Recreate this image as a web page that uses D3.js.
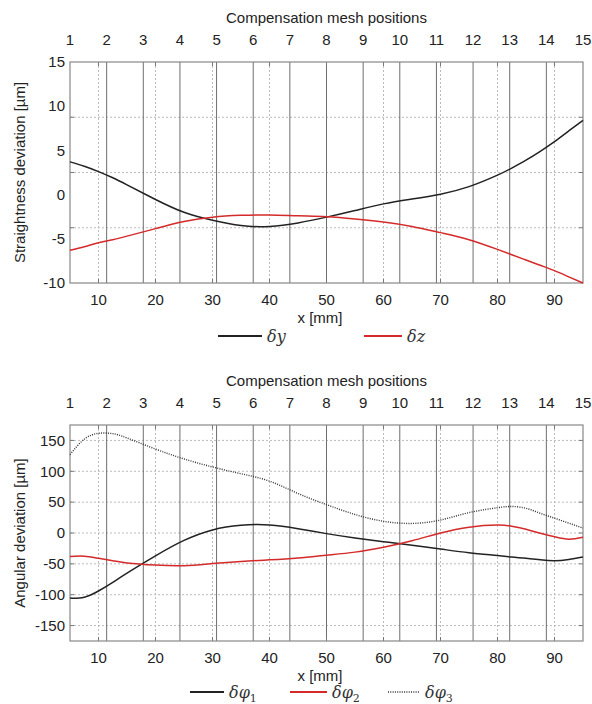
<!DOCTYPE html>
<html lang="en">
<head>
<meta charset="UTF-8"/>
<title>Straightness and angular deviation</title>
<script src="https://d3js.org/d3.v7.min.js"></script>
<style>
	body { margin: 0; background: #fff; }
	svg text { font-family: "Liberation Sans", Arial, sans-serif; fill: #222; }
	svg text.leg { font-family: "DejaVu Serif", "Liberation Serif", serif; font-style: italic; fill: #333; }
</style>
</head>
<body>
<script>
	// sample positions along x [mm]
	var xs = [5, 7.5, 10, 12.5, 15, 20, 25, 30, 35, 40, 45, 50, 55, 60, 65, 70, 75, 80, 82.5, 85, 87.5, 90, 92.5, 95];

	// straightness deviation [um]
	var dy = [3.7, 3.2, 2.6, 1.9, 1.1, -0.55, -2.0, -2.9, -3.5, -3.6, -3.2, -2.55, -1.8, -1.05, -0.5, 0.05, 0.9, 2.2, 3.0, 3.9, 4.9, 6.0, 7.2, 8.4];
	var dz = [-6.3, -5.9, -5.45, -5.1, -4.7, -3.85, -3.05, -2.55, -2.35, -2.3, -2.4, -2.5, -2.75, -3.1, -3.6, -4.3, -5.1, -6.2, -6.8, -7.4, -8.0, -8.6, -9.3, -10];

	// angular deviation [um]
	var dphi1 = [-105.5, -104, -94, -80, -65, -37, -12, 5, 12.5, 13, 7, -1, -8, -14, -20, -26, -32, -36.5, -39, -41, -43.5, -45, -43, -39];
	var dphi2 = [-38, -37.5, -41, -45, -48.5, -52, -53, -49.5, -46, -43.5, -40.5, -36, -31, -23, -12.5, 0, 9.5, 13, 11, 6, -0.5, -6, -10, -7];
	var dphi3 = [127, 152, 161.5, 161, 154, 136, 120, 107, 96, 84, 64, 46, 30, 19, 15.5, 21, 33, 41, 43, 40, 32, 24, 16, 8];

	var meshPositions = [1, 2, 3, 4, 5, 6, 7, 8, 9, 10, 11, 12, 13, 14, 15];
	var xTicks = [10, 20, 30, 40, 50, 60, 70, 80, 90];
	var topYTicks = [-10, -5, 0, 5, 10, 15];
	var topYGrid = [-3.75, 2.5, 8.75];
	var botYTicks = [-150, -100, -50, 0, 50, 100, 150];

	var w = 592;
	var h = 704;
	var left = 70, right = 583;

	var svg = d3.select("body").append("svg").attr("width", w).attr("height", h);

	var xScale = d3.scaleLinear().domain([5, 95]).range([left, right]);
	var meshScale = d3.scaleLinear().domain([1, 15]).range([left, right]);

	function panel(cfg) {
		var yScale = d3.scaleLinear().domain(cfg.domain).range([cfg.bottom, cfg.top]);
		var g = svg.append("g");

		// dotted grid
		g.selectAll(".vg").data(xTicks).enter().append("line")
			.attr("x1", function(d){ return xScale(d); })
			.attr("x2", function(d){ return xScale(d); })
			.attr("y1", cfg.top).attr("y2", cfg.bottom)
			.attr("stroke", "#bbb").attr("stroke-width", 1).attr("stroke-dasharray", "2,2");
		g.selectAll(".hg").data(cfg.grid).enter().append("line")
			.attr("x1", left).attr("x2", right)
			.attr("y1", function(d){ return yScale(d); })
			.attr("y2", function(d){ return yScale(d); })
			.attr("stroke", "#bbb").attr("stroke-width", 1).attr("stroke-dasharray", "2,2");

		// mesh lines
		g.selectAll(".ml").data(meshPositions.slice(1, -1)).enter().append("line")
			.attr("x1", function(d){ return meshScale(d); })
			.attr("x2", function(d){ return meshScale(d); })
			.attr("y1", cfg.top).attr("y2", cfg.bottom)
			.attr("stroke", "#6e6e6e").attr("stroke-width", 1);

		// inward ticks
		g.selectAll(".tb").data(xTicks).enter().append("line")
			.attr("x1", function(d){ return xScale(d); })
			.attr("x2", function(d){ return xScale(d); })
			.attr("y1", cfg.bottom).attr("y2", cfg.bottom - 4)
			.attr("stroke", "#777");
		g.selectAll(".tt").data(xTicks).enter().append("line")
			.attr("x1", function(d){ return xScale(d); })
			.attr("x2", function(d){ return xScale(d); })
			.attr("y1", cfg.top).attr("y2", cfg.top + 4)
			.attr("stroke", "#777");
		g.selectAll(".tl").data(cfg.grid).enter().append("line")
			.attr("x1", left).attr("x2", left + 4)
			.attr("y1", function(d){ return yScale(d); })
			.attr("y2", function(d){ return yScale(d); })
			.attr("stroke", "#777");
		g.selectAll(".tr").data(cfg.grid).enter().append("line")
			.attr("x1", right).attr("x2", right - 4)
			.attr("y1", function(d){ return yScale(d); })
			.attr("y2", function(d){ return yScale(d); })
			.attr("stroke", "#777");

		// frame
		g.append("rect")
			.attr("x", left).attr("y", cfg.top)
			.attr("width", right - left).attr("height", cfg.bottom - cfg.top)
			.attr("fill", "none").attr("stroke", "#888").attr("stroke-width", 1.2);

		// curves
		cfg.series.forEach(function(s){
			var line = d3.line()
				.x(function(d, i){ return xScale(xs[i]); })
				.y(function(d){ return yScale(d); })
				.curve(d3.curveNatural);
			g.append("path")
				.attr("d", line(s.values))
				.attr("fill", "none")
				.attr("stroke", s.color)
				.attr("stroke-width", s.dash ? 1.4 : 1.5)
				.attr("stroke-dasharray", s.dash || null);
		});

		// labels
		g.append("text")
			.attr("x", (left + right) / 2).attr("y", cfg.top - 44)
			.attr("dy", "0.35em").attr("text-anchor", "middle")
			.style("font-size", "15px")
			.text("Compensation mesh positions");
		g.selectAll(".mt").data(meshPositions).enter().append("text")
			.attr("x", function(d){ return meshScale(d); })
			.attr("y", cfg.top - 22)
			.attr("dy", "0.35em").attr("text-anchor", "middle")
			.style("font-size", "15px")
			.text(function(d){ return d; });
		g.selectAll(".xt").data(xTicks).enter().append("text")
			.attr("x", function(d){ return xScale(d); })
			.attr("y", cfg.bottom + 17)
			.attr("dy", "0.35em").attr("text-anchor", "middle")
			.style("font-size", "15px")
			.text(function(d){ return d; });
		g.selectAll(".yt").data(cfg.ticks).enter().append("text")
			.attr("x", left - 5)
			.attr("y", function(d){ return yScale(d); })
			.attr("dy", "0.35em").attr("text-anchor", "end")
			.style("font-size", "15px")
			.text(function(d){ return d; });
		g.append("text")
			.attr("x", 320).attr("y", cfg.bottom + 35)
			.attr("dy", "0.35em").attr("text-anchor", "middle")
			.style("font-size", "15px")
			.text("x [mm]");
		g.append("text")
			.attr("transform", "translate(20," + ((cfg.top + cfg.bottom) / 2) + ") rotate(-90)")
			.attr("dy", "0.35em").attr("text-anchor", "middle")
			.style("font-size", "15px")
			.text(cfg.yTitle);

		// legend
		var ly = cfg.bottom + cfg.legendGap;
		cfg.series.forEach(function(s){
			g.append("line")
				.attr("x1", s.lx[0]).attr("x2", s.lx[1])
				.attr("y1", ly).attr("y2", ly)
				.attr("stroke", s.color)
				.attr("stroke-width", s.dash ? 1.4 : 1.8)
				.attr("stroke-dasharray", s.dash || null);
			var t = g.append("text").attr("class", "leg")
				.attr("x", s.lx[1] + 5).attr("y", ly).attr("dy", "0.35em")
				.style("font-size", "16px")
				.text(s.name);
			if (s.sub) {
				t.append("tspan").attr("dy", "4").style("font-size", "11px").style("font-style", "normal").text(s.sub);
			}
		});
	}

	panel({
		top: 62, bottom: 283, domain: [-10, 15],
		ticks: topYTicks, grid: topYGrid,
		yTitle: "Straightness deviation [\u00b5m]",
		legendGap: 53,
		series: [
			{ name: "\u03b4y", values: dy, color: "#222", lx: [218, 262] },
			{ name: "\u03b4z", values: dz, color: "#d42a2a", lx: [364, 402] }
		]
	});

	panel({
		top: 425, bottom: 641, domain: [-175, 175],
		ticks: botYTicks, grid: botYTicks,
		yTitle: "Angular deviation [\u00b5m]",
		legendGap: 51,
		series: [
			{ name: "\u03b4\u03c6", sub: "1", values: dphi1, color: "#222", lx: [190, 224] },
			{ name: "\u03b4\u03c6", sub: "2", values: dphi2, color: "#d42a2a", lx: [290, 327] },
			{ name: "\u03b4\u03c6", sub: "3", values: dphi3, color: "#333", dash: "1,1.3", lx: [388, 420] }
		]
	});
</script>
</body>
</html>
